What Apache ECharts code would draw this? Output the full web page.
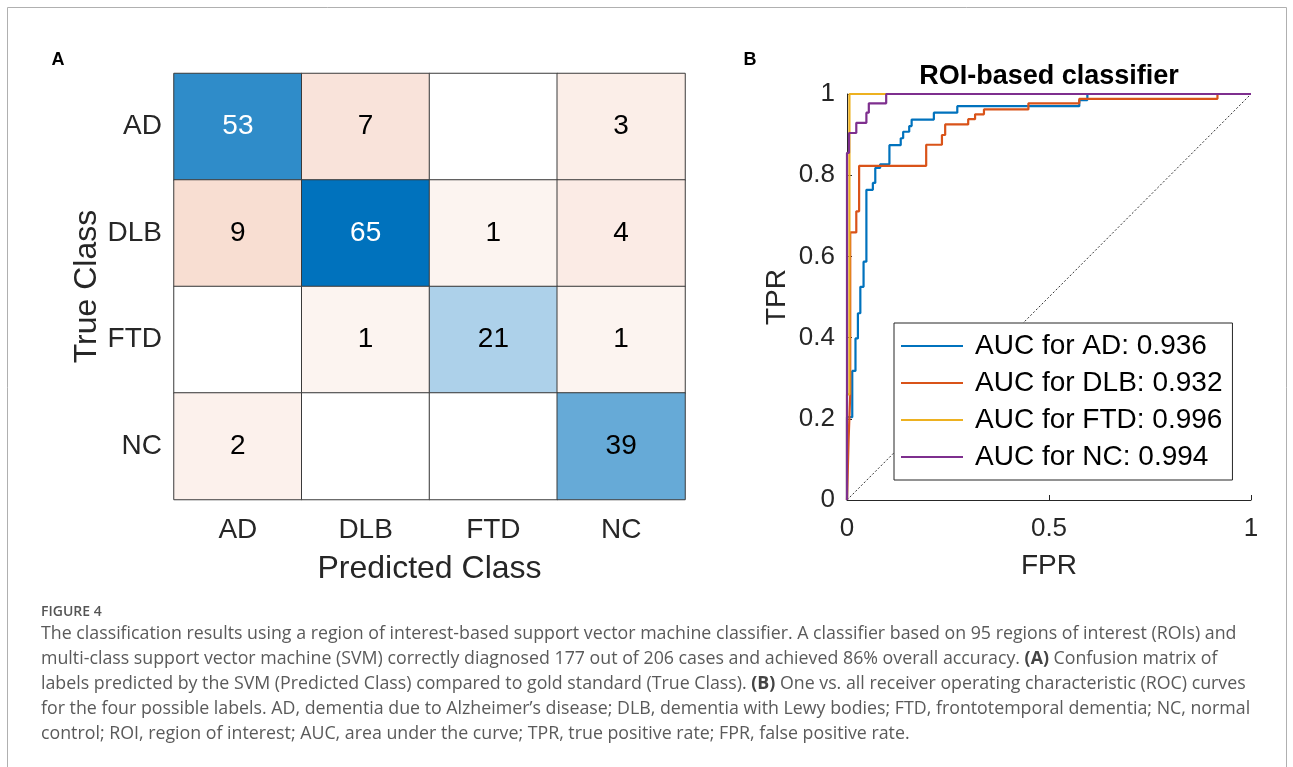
<!DOCTYPE html>
<html>
<head>
<meta charset="utf-8">
<script src="https://cdn.jsdelivr.net/npm/echarts@6/dist/echarts.min.js"></script>
<style>
html, body { margin: 0; padding: 0; background: #fff; }
#main { width: 1293px; height: 767px; }
</style>
</head>
<body>
<div id="main"></div>
<script>
/* 数据 */
var classes = ['AD', 'DLB', 'FTD', 'NC'];
// rows = true class, columns = predicted class
var cmAD = [53, 7, 0, 3];
var cmDLB = [9, 65, 1, 4];
var cmFTD = [0, 1, 21, 1];
var cmNC = [2, 0, 0, 39];

var rocNames = ['AUC for AD: 0.936', 'AUC for DLB: 0.932', 'AUC for FTD: 0.996', 'AUC for NC: 0.994'];
var rocAD = [[0,0],[0,0.204],[0.013,0.204],[0.013,0.318],[0.021,0.318],[0.021,0.398],[0.027,0.398],[0.027,0.460],
	[0.033,0.460],[0.033,0.525],[0.041,0.525],[0.041,0.587],[0.048,0.587],[0.048,0.764],[0.064,0.764],[0.064,0.781],
	[0.070,0.781],[0.070,0.818],[0.082,0.818],[0.082,0.827],[0.105,0.827],[0.105,0.874],[0.133,0.874],[0.133,0.891],
	[0.139,0.891],[0.139,0.907],[0.154,0.907],[0.154,0.921],[0.160,0.921],[0.160,0.937],[0.215,0.937],[0.215,0.954],
	[0.273,0.954],[0.273,0.970],[0.575,0.970],[0.575,0.985],[0.595,0.985],[0.595,1],[1,1]];
var rocDLB = [[0,0],[0.004,0.15],[0.008,0.26],[0.008,0.659],[0.023,0.659],[0.023,0.711],[0.030,0.711],[0.030,0.823],
	[0.196,0.823],[0.196,0.875],[0.235,0.875],[0.235,0.899],[0.243,0.899],[0.243,0.925],[0.300,0.925],[0.300,0.938],
	[0.317,0.938],[0.317,0.950],[0.339,0.950],[0.339,0.962],[0.449,0.962],[0.449,0.977],[0.575,0.977],[0.575,0.988],
	[0.917,0.988],[0.917,1],[1,1]];
var rocFTD = [[0,0],[0,0.26],[0.006,0.26],[0.006,1],[1,1]];
var rocNC = [[0,0],[0,0.855],[0.005,0.855],[0.005,0.904],[0.023,0.904],[0.023,0.929],[0.048,0.929],[0.048,0.954],
	[0.054,0.954],[0.054,0.977],[0.097,0.977],[0.097,1],[1,1]];
var chanceLine = [[0,0],[1,1]];

var captionLines = [
	'The classification results using a region of interest-based support vector machine classifier. A classifier based on 95 regions of interest (ROIs) and',
	'multi-class support vector machine (SVM) correctly diagnosed 177 out of 206 cases and achieved 86% overall accuracy. {b|(A)} Confusion matrix of',
	'labels predicted by the SVM (Predicted Class) compared to gold standard (True Class). {b|(B)} One vs. all receiver operating characteristic (ROC) curves',
	'for the four possible labels. AD, dementia due to Alzheimer\u2019s disease; DLB, dementia with Lewy bodies; FTD, frontotemporal dementia; NC, normal',
	'control; ROI, region of interest; AUC, area under the curve; TPR, true positive rate; FPR, false positive rate.'
];

var font = "'Liberation Sans', Arial, sans-serif";
var capFont = "'Open Sans', sans-serif";
var ink = '#262626';

function mix(rgb, t) {
	return 'rgb(' + rgb.map(function (c) { return Math.round(255 + (c - 255) * t); }).join(',') + ')';
}

var cmRows = [cmAD, cmDLB, cmFTD, cmNC];
var maxDiag = Math.max(cmAD[0], cmDLB[1], cmFTD[2], cmNC[3]);
var cmData = [];
cmRows.forEach(function (row, r) {
	row.forEach(function (v, c) {
		var color = '#ffffff', dark = false;
		if (v > 0 && r === c) {
			var t = v / maxDiag;
			color = mix([0, 114, 189], t);
			dark = t > 0.7;
		} else if (v > 0) {
			color = mix([217, 83, 25], 0.05 + 0.016 * v);
		}
		cmData.push({
			value: [c, r, v],
			itemStyle: { color: color },
			label: { color: dark ? '#ffffff' : '#000000' }
		});
	});
});

var rocColors = ['#0072bd', '#d95319', '#edb120', '#7e2f8e'];
var rocSets = [rocAD, rocDLB, rocFTD, rocNC];

var series = [{
	type: 'heatmap',
	xAxisIndex: 0,
	yAxisIndex: 0,
	data: cmData,
	itemStyle: { borderColor: '#3a3a3a', borderWidth: 1 },
	label: {
		show: true,
		fontSize: 28,
		fontFamily: font,
		formatter: function (p) { return p.value[2] > 0 ? p.value[2] : ''; }
	},
	emphasis: { disabled: true }
}, {
	type: 'line',
	xAxisIndex: 1,
	yAxisIndex: 1,
	data: chanceLine,
	symbol: 'none',
	silent: true,
	lineStyle: { color: '#333', width: 1, type: [2, 2] },
	z: 1
}];
rocSets.forEach(function (d, i) {
	series.push({
		name: rocNames[i],
		type: 'line',
		xAxisIndex: 1,
		yAxisIndex: 1,
		data: d,
		symbol: 'none',
		clip: false,
		itemStyle: { color: rocColors[i] },
		lineStyle: { color: rocColors[i], width: 2.2 },
		z: 2 + i
	});
});

var graphics = [
	{ type: 'rect', shape: { x: 7.5, y: 7.5, width: 1279, height: 800 }, style: { fill: 'none', stroke: '#b0b0b0', lineWidth: 1 } },
	{ type: 'text', x: 58, y: 60, style: { text: 'A', font: 'bold 18px ' + font, fill: '#000', align: 'center', verticalAlign: 'middle', textAlign: 'center', textVerticalAlign: 'middle' } },
	{ type: 'text', x: 750, y: 60, style: { text: 'B', font: 'bold 18px ' + font, fill: '#000', align: 'center', verticalAlign: 'middle', textAlign: 'center', textVerticalAlign: 'middle' } },
	{ type: 'text', x: 1049, y: 77, style: { text: 'ROI-based classifier', font: 'bold 27px ' + font, fill: '#000', align: 'center', verticalAlign: 'middle', textAlign: 'center', textVerticalAlign: 'middle' } },
	{ type: 'text', x: 41, y: 612, style: { text: 'FIGURE 4', font: '600 14px ' + capFont, fill: '#555', verticalAlign: 'middle', textVerticalAlign: 'middle' } }
];
captionLines.forEach(function (line, i) {
	graphics.push({
		type: 'text', x: 41, y: 634 + i * 25,
		style: {
			text: line,
			font: '17.8px ' + capFont,
			fill: '#5a5a5a',
			verticalAlign: 'middle', textVerticalAlign: 'middle',
			rich: { b: { fontFamily: capFont, fontSize: 17.8, fontWeight: 'bold', fill: '#444', color: '#444' } }
		}
	});
});

var myChart = echarts.init(document.getElementById('main'), null, { renderer: 'canvas' });
var option = {
	animation: false,
	backgroundColor: '#ffffff',
	textStyle: { fontFamily: font },
	grid: [
		{ left: 174, top: 73.5, width: 511, height: 426 },
		{ left: 847, top: 94, width: 404, height: 406 }
	],
	xAxis: [{
		type: 'category',
		gridIndex: 0,
		data: classes,
		position: 'bottom',
		axisLine: { show: false },
		axisTick: { show: false },
		axisLabel: { color: ink, fontSize: 28, margin: 17 },
		name: 'Predicted Class',
		nameLocation: 'middle',
		nameGap: 54,
		nameTextStyle: { color: ink, fontSize: 32 }
	}, {
		type: 'value',
		gridIndex: 1,
		min: 0,
		max: 1,
		interval: 0.5,
		axisLine: { show: true, lineStyle: { color: ink, width: 1 } },
		axisTick: { show: true, inside: true, length: 5, lineStyle: { color: ink } },
		splitLine: { show: false },
		axisLabel: { color: ink, fontSize: 26, margin: 16 },
		name: 'FPR',
		nameLocation: 'middle',
		nameGap: 52,
		nameTextStyle: { color: ink, fontSize: 28 }
	}],
	yAxis: [{
		type: 'category',
		gridIndex: 0,
		data: classes,
		inverse: true,
		axisLine: { show: false },
		axisTick: { show: false },
		axisLabel: { color: ink, fontSize: 28, margin: 12 },
		name: 'True Class',
		nameLocation: 'middle',
		nameGap: 70,
		nameTextStyle: { color: ink, fontSize: 32 }
	}, {
		type: 'value',
		gridIndex: 1,
		min: 0,
		max: 1,
		interval: 0.2,
		axisLine: { show: true, lineStyle: { color: ink, width: 1 } },
		axisTick: { show: true, inside: true, length: 5, lineStyle: { color: ink } },
		splitLine: { show: false },
		axisLabel: { color: ink, fontSize: 26, margin: 12 },
		name: 'TPR',
		nameLocation: 'middle',
		nameGap: 56,
		nameTextStyle: { color: ink, fontSize: 28 }
	}],
	legend: {
		orient: 'vertical',
		left: 894,
		top: 323,
		data: rocNames,
		icon: 'rect',
		itemWidth: 62,
		itemHeight: 2,
		itemGap: 9,
		padding: [9, 10, 9, 7],
		backgroundColor: '#ffffff',
		borderColor: ink,
		borderWidth: 1,
		borderRadius: 0,
		selectedMode: false,
		textStyle: { color: '#000', fontSize: 28, lineHeight: 28, padding: [0, 0, 0, 7], fontFamily: font }
	},
	series: series,
	graphic: graphics
};
myChart.setOption(option);
</script>
</body>
</html>
